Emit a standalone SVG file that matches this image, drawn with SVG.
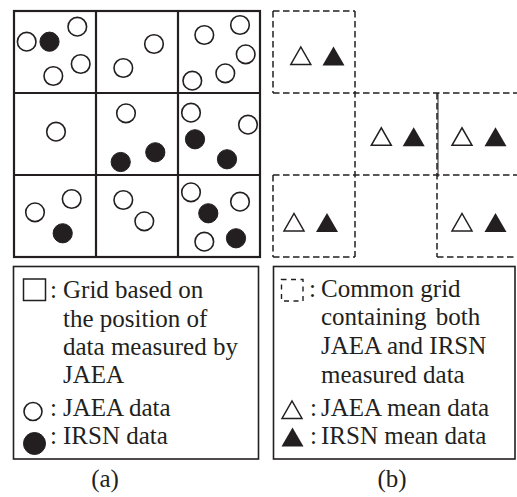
<svg xmlns="http://www.w3.org/2000/svg" width="517" height="497" viewBox="0 0 517 497">
<style>
.grid{fill:none;stroke:#231f20;stroke-width:2.2}
.box{fill:none;stroke:#231f20;stroke-width:1.6}
.oc{fill:#fff;stroke:#231f20;stroke-width:1.6}
.fc{fill:#231f20;stroke:#231f20;stroke-width:1}
.dash{fill:none;stroke:#231f20;stroke-width:1.5;stroke-dasharray:6.5,3.5}
.ot{fill:#fff;stroke:#231f20;stroke-width:1.5;stroke-linejoin:miter}
.ft{fill:#231f20}
text{font-family:"Liberation Serif","Times New Roman",serif;font-size:25px;fill:#231f20}
</style>
<defs>
<circle id="oc" r="9.3" class="oc"/>
<circle id="fc" r="9.6" class="fc"/>
<polygon id="ot" points="-10,0 10,0 0,-17.5" class="ot"/>
<polygon id="ft" points="-11,0 11,0 0,-19" class="ft"/>
</defs>

<g id="panel-a-grid">
<rect class="grid" x="14" y="11" width="246" height="246"/>
<line class="grid" x1="96" y1="11" x2="96" y2="257"/>
<line class="grid" x1="178" y1="11" x2="178" y2="257"/>
<line class="grid" x1="14" y1="93" x2="260" y2="93"/>
<line class="grid" x1="14" y1="175" x2="260" y2="175"/>
</g>

<g id="panel-a-data">
<use href="#oc" x="26.7" y="41.7"/><use href="#fc" x="49.5" y="41.7"/><use href="#oc" x="77.3" y="26.7"/><use href="#oc" x="80.7" y="64"/><use href="#oc" x="53.3" y="76"/>
<use href="#oc" x="154" y="44"/><use href="#oc" x="123.3" y="68"/>
<use href="#oc" x="204.3" y="35"/><use href="#oc" x="240" y="25"/><use href="#oc" x="245.7" y="54.3"/><use href="#oc" x="225.3" y="73.3"/><use href="#oc" x="192.3" y="80.7"/>
<use href="#oc" x="56" y="131.7"/>
<use href="#oc" x="126" y="113.3"/><use href="#fc" x="155.3" y="152.3"/><use href="#fc" x="120.7" y="162"/>
<use href="#oc" x="191" y="112.7"/><use href="#oc" x="248" y="124.7"/><use href="#fc" x="195" y="139.3"/><use href="#fc" x="227" y="159.3"/>
<use href="#oc" x="35" y="212.3"/><use href="#oc" x="71.7" y="199"/><use href="#fc" x="62.7" y="233.3"/>
<use href="#oc" x="123.3" y="200"/><use href="#oc" x="144.3" y="221.3"/>
<use href="#oc" x="191" y="192.3"/><use href="#oc" x="240" y="201.7"/><use href="#fc" x="208.3" y="213.3"/><use href="#oc" x="204.3" y="241.7"/><use href="#fc" x="236" y="238.3"/>
</g>

<g id="panel-b-grid">
<line class="dash" x1="273" y1="11" x2="355" y2="11"/>
<line class="dash" x1="273" y1="93" x2="517" y2="93"/>
<line class="dash" x1="273" y1="175" x2="517" y2="175"/>
<line class="dash" x1="273" y1="257" x2="355" y2="257"/>
<line class="dash" x1="437" y1="257" x2="517" y2="257"/>
<line class="dash" x1="273" y1="11" x2="273" y2="93"/>
<line class="dash" x1="273" y1="175" x2="273" y2="257"/>
<line class="dash" x1="355" y1="11" x2="355" y2="257"/>
<line class="dash" x1="437" y1="93" x2="437" y2="257"/>
<line x1="438" y1="93" x2="438" y2="177" stroke="#231f20" stroke-width="1"/>
</g>

<g id="panel-b-data">
<use href="#ot" x="300.8" y="64.5"/><use href="#ft" x="333.5" y="65.5"/>
<use href="#ot" x="381.3" y="145.3"/><use href="#ft" x="413.7" y="146.3"/>
<use href="#ot" x="462" y="145.3"/><use href="#ft" x="495.5" y="146.3"/>
<use href="#ot" x="294" y="231"/><use href="#ft" x="327" y="232"/>
<use href="#ot" x="462" y="231"/><use href="#ft" x="495.5" y="232"/>
</g>

<g id="legend-a">
<rect class="box" x="13.5" y="266.5" width="245" height="192.5"/>
<rect x="23.5" y="279" width="22" height="21.5" fill="none" stroke="#231f20" stroke-width="1.5"/>
<text x="50" y="298">:</text><text x="63" y="298">Grid based on</text>
<text x="63" y="327">the position of</text>
<text x="63" y="355">data measured by</text>
<text x="63" y="383">JAEA</text>
<circle cx="33" cy="411.5" r="9" class="oc"/>
<text x="50" y="416">:</text><text x="63" y="416">JAEA data</text>
<circle cx="34.5" cy="443.5" r="11" class="fc"/>
<text x="50" y="444">:</text><text x="63" y="444">IRSN data</text>
</g>

<g id="legend-b">
<rect class="box" x="273.5" y="266.5" width="241.5" height="192.5"/>
<rect x="281.5" y="279.5" width="21.5" height="21.5" fill="none" stroke="#231f20" stroke-width="1.4" stroke-dasharray="5,4.5"/>
<text x="309" y="297">:</text><text x="321" y="297">Common grid</text>
<text x="321" y="325" word-spacing="3">containing both</text>
<text x="321" y="354">JAEA and IRSN</text>
<text x="321" y="383">measured data</text>
<use href="#ot" x="292" y="418.5"/>
<text x="310" y="416">:</text><text x="321" y="416">JAEA mean data</text>
<use href="#ft" x="292.5" y="446.5"/>
<text x="310" y="444">:</text><text x="321" y="444">IRSN mean data</text>
</g>

<g id="captions">
<text x="105" y="487" text-anchor="middle">(a)</text>
<text x="392" y="487" text-anchor="middle">(b)</text>
</g>
</svg>
